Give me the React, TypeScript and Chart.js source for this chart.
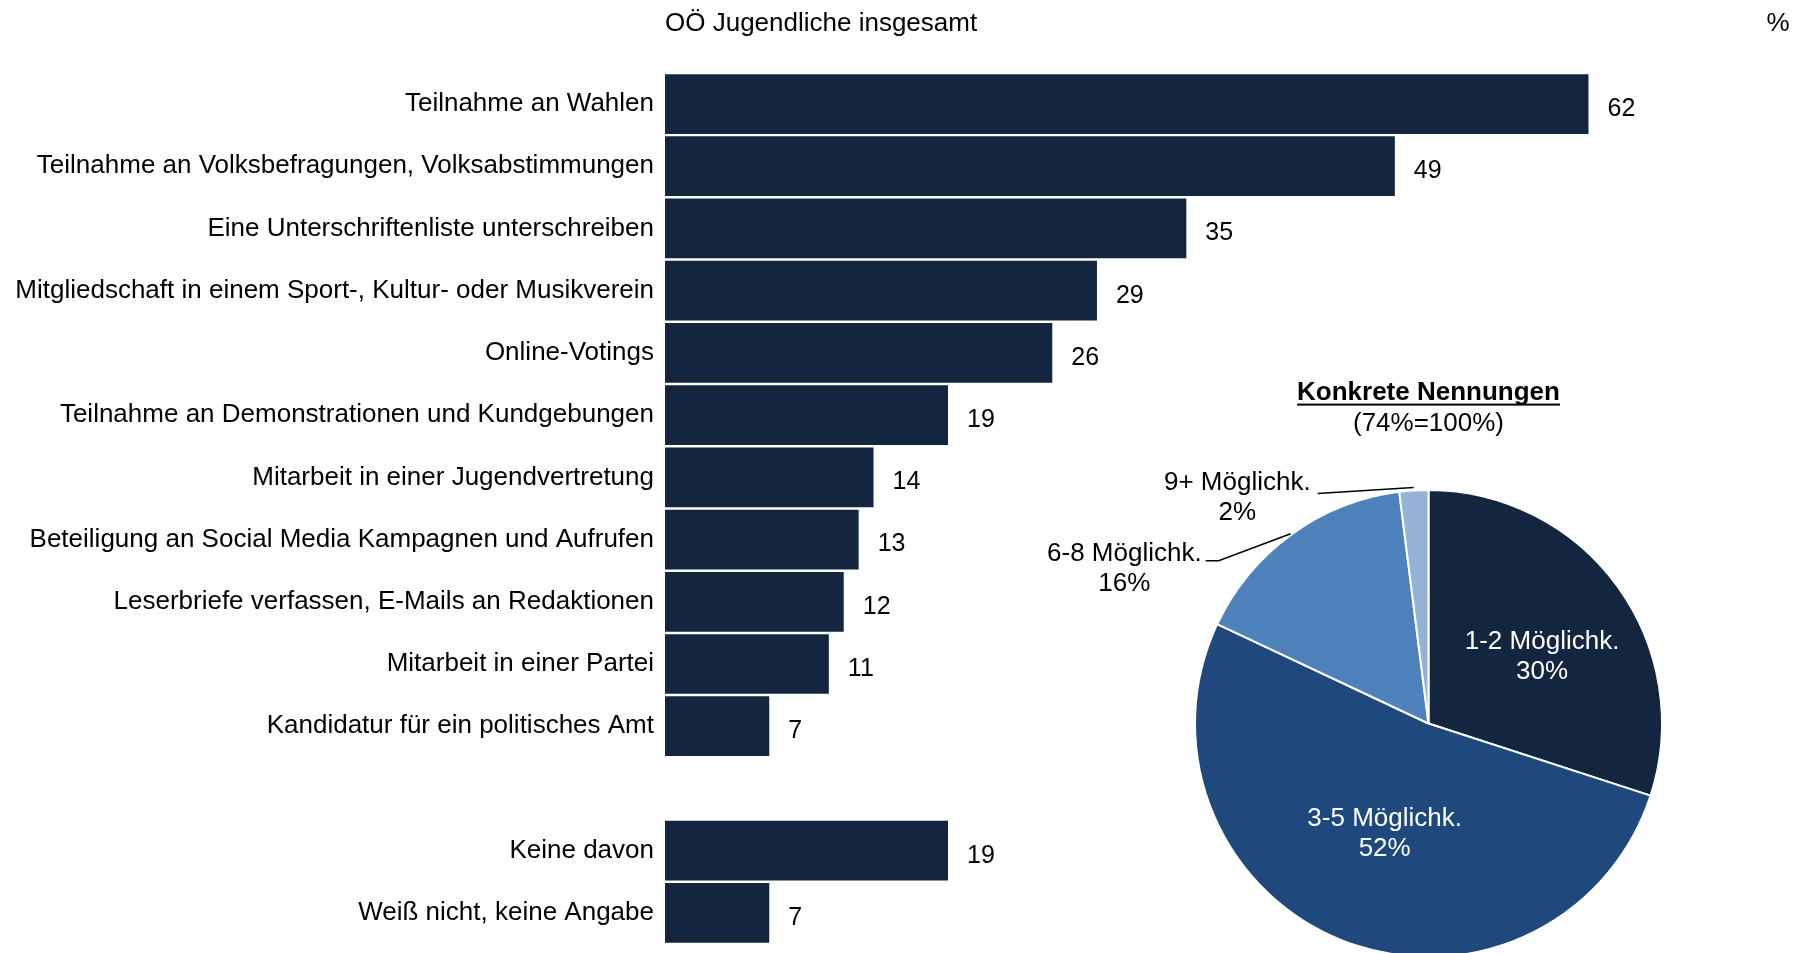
import React, { useEffect, useRef } from 'react';
import { Chart, registerables } from 'chart.js';

Chart.register(...registerables);

const FONT = "'Liberation Sans', Arial, Helvetica, sans-serif";

const barTitle = 'OÖ Jugendliche insgesamt';
const unitLabel = '%';
const barCategories = [
  'Teilnahme an Wahlen',
  'Teilnahme an Volksbefragungen, Volksabstimmungen',
  'Eine Unterschriftenliste unterschreiben',
  'Mitgliedschaft in einem Sport-, Kultur- oder Musikverein',
  'Online-Votings',
  'Teilnahme an Demonstrationen und Kundgebungen',
  'Mitarbeit in einer Jugendvertretung',
  'Beteiligung an Social Media Kampagnen und Aufrufen',
  'Leserbriefe verfassen, E-Mails an Redaktionen',
  'Mitarbeit in einer Partei',
  'Kandidatur für ein politisches Amt',
  '',
  'Keine davon',
  'Weiß nicht, keine Angabe',
];
const barValues: (number | null)[] = [62, 49, 35, 29, 26, 19, 14, 13, 12, 11, 7, null, 19, 7];

const pieTitle = 'Konkrete Nennungen';
const pieSubtitle = '(74%=100%)';
const pieLabels = ['1-2 Möglichk.', '3-5 Möglichk.', '6-8 Möglichk.', '9+ Möglichk.'];
const pieValues = [30, 52, 16, 2];
const pieColors = ['#13253f', '#1f497d', '#4f81bd', '#95b3d7'];

const BAR_COLOR = '#13253f';
const PIE_TITLE_PAD_TOP = 17;

const barValueLabels = {
  id: 'barValueLabels',
  afterDatasetsDraw(chart: any) {
    const ctx = chart.ctx;
    const meta = chart.getDatasetMeta(0);
    ctx.save();
    ctx.fillStyle = '#000';
    ctx.font = `25px ${FONT}`;
    ctx.textAlign = 'left';
    ctx.textBaseline = 'middle';
    meta.data.forEach((el: any, i: number) => {
      const v = barValues[i];
      if (v === null || v === undefined) return;
      ctx.fillText(String(v), el.x + 19, el.y + 5);
    });
    // unit label at the top right
    ctx.textAlign = 'center';
    ctx.font = `26px ${FONT}`;
    ctx.fillText(unitLabel, 1778, 24);
    ctx.restore();
  },
};

const pieDecor = {
  id: 'pieDecor',
  afterDatasetsDraw(chart: any) {
    const ctx = chart.ctx;
    const meta = chart.getDatasetMeta(0);
    ctx.save();
    ctx.font = `26px ${FONT}`;
    ctx.textBaseline = 'middle';
    meta.data.forEach((arc: any, i: number) => {
      const p = arc.getProps(['x', 'y', 'startAngle', 'endAngle', 'outerRadius']);
      const pct = `${pieValues[i]}%`;
      const name = pieLabels[i];
      if (i === 0 || i === 1) {
        const t = i === 0 ? 0.55 : 0.5;
        const rf = i === 0 ? 0.565 : 0.51;
        const a = p.startAngle + (p.endAngle - p.startAngle) * t;
        const cx = p.x + Math.cos(a) * p.outerRadius * rf;
        const cy = p.y + Math.sin(a) * p.outerRadius * rf;
        ctx.fillStyle = '#fff';
        ctx.textAlign = 'center';
        ctx.fillText(name, cx, cy - 15);
        ctx.fillText(pct, cx, cy + 15);
      } else {
        const a = (p.startAngle + p.endAngle) / 2;
        const extra = i === 2 ? 1 : 3;
        const ex = p.x + Math.cos(a) * (p.outerRadius + extra);
        const ey = p.y + Math.sin(a) * (p.outerRadius + extra);
        ctx.strokeStyle = '#000';
        ctx.lineWidth = 1.6;
        ctx.beginPath();
        let textRight: number;
        let textY: number;
        if (i === 2) {
          const kx = ex - 72;
          const ky = ey + 27;
          ctx.moveTo(ex, ey);
          ctx.lineTo(kx, ky);
          ctx.lineTo(kx - 13, ky);
          textRight = kx - 17;
          textY = ky - 7;
        } else {
          const kx = ex - 96;
          const ky = ey + 6;
          ctx.moveTo(ex, ey);
          ctx.lineTo(kx, ky);
          textRight = kx - 7;
          textY = ky - 11;
        }
        ctx.stroke();
        ctx.fillStyle = '#000';
        const w = ctx.measureText(name).width;
        const center = textRight - w / 2;
        ctx.textAlign = 'center';
        ctx.fillText(name, center, textY);
        ctx.fillText(pct, center, textY + 30);
      }
    });
    // underline of pie title
    const tb = chart.titleBlock;
    if (tb) {
      ctx.font = `bold 26px ${FONT}`;
      const w = ctx.measureText(pieTitle).width;
      const cx = (tb.left + tb.right) / 2;
      const cy = tb.top + PIE_TITLE_PAD_TOP + 15.6 + 12;
      ctx.fillStyle = '#000';
      ctx.fillRect(cx - w / 2, cy - 1, w, 2);
    }
    ctx.restore();
  },
};

export default function App() {
  const barRef = useRef<HTMLCanvasElement | null>(null);
  const pieRef = useRef<HTMLCanvasElement | null>(null);

  useEffect(() => {
    if (!barRef.current || !pieRef.current) return;
    const bar = new Chart(barRef.current, {
      type: 'bar',
      data: {
        labels: barCategories,
        datasets: [
          {
            data: barValues as any,
            backgroundColor: BAR_COLOR,
            borderWidth: 0,
            barPercentage: 0.96,
            categoryPercentage: 1,
          },
        ],
      },
      options: {
        indexAxis: 'y',
        responsive: false,
        animation: false,
        layout: { padding: { left: 0, right: 10, top: 0, bottom: 9 } },
        scales: {
          x: { display: false, min: 0, max: 76 },
          y: {
            grid: { display: false, drawTicks: false },
            border: { display: false },
            ticks: {
              autoSkip: false,
              padding: 11,
              color: '#000',
              font: { family: FONT, size: 26 },
            },
            afterFit: (s: any) => {
              s.width = 665;
              s.paddingTop = 0;
              s.paddingBottom = 0;
            },
          },
        },
        plugins: {
          legend: { display: false },
          tooltip: { enabled: false },
          title: {
            display: true,
            text: barTitle,
            align: 'start',
            fullSize: false,
            color: '#000',
            font: { family: FONT, size: 26, weight: 'normal', lineHeight: 1.2 },
            padding: { top: 8.7, bottom: 33 },
          },
        },
      } as any,
      plugins: [barValueLabels],
    });

    const pie = new Chart(pieRef.current, {
      type: 'pie',
      data: {
        labels: pieLabels,
        datasets: [
          {
            data: pieValues,
            backgroundColor: pieColors,
            borderColor: '#ffffff',
            borderWidth: 2,
          },
        ],
      },
      options: {
        responsive: false,
        animation: false,
        layout: { padding: { left: 194, right: 144, top: 0, bottom: 2 } },
        plugins: {
          legend: { display: false },
          tooltip: { enabled: false },
          title: {
            display: true,
            text: pieTitle,
            fullSize: false,
            color: '#000',
            font: { family: FONT, size: 26, weight: 'bold', lineHeight: 1.2 },
            padding: { top: PIE_TITLE_PAD_TOP, bottom: 0 },
          },
          subtitle: {
            display: true,
            text: pieSubtitle,
            fullSize: false,
            color: '#000',
            font: { family: FONT, size: 26, weight: 'normal', lineHeight: 1.2 },
            padding: { top: 0, bottom: 49.6 },
          },
        },
      } as any,
      plugins: [pieDecor],
    });

    return () => {
      bar.destroy();
      pie.destroy();
    };
  }, []);

  return (
    <div
      style={{
        position: 'fixed',
        left: 0,
        top: 0,
        width: 1807,
        height: 953,
        overflow: 'hidden',
        background: '#fff',
      }}
    >
      <canvas
        ref={barRef}
        width={1807}
        height={953}
        style={{ position: 'absolute', left: 0, top: 0, width: 1807, height: 953 }}
      />
      <canvas
        ref={pieRef}
        width={807}
        height={600}
        style={{ position: 'absolute', left: 1000, top: 360, width: 807, height: 600 }}
      />
    </div>
  );
}
